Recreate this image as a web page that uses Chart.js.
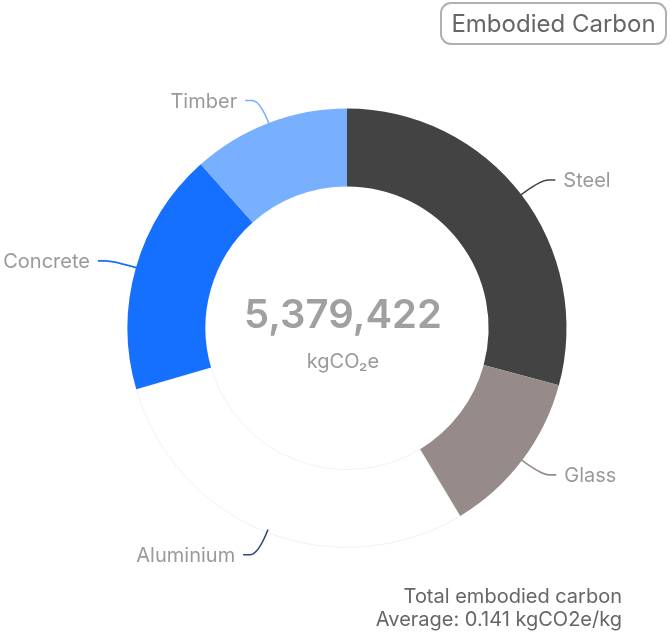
<!DOCTYPE html>
<html>
<head>
<meta charset="utf-8">
<script src="https://cdn.jsdelivr.net/npm/chart.js@4.4.1/dist/chart.umd.min.js"></script>
<style>
    body { margin: 0; background: #fff; font-family: Inter, "Noto Sans", sans-serif; }
    #wrap { position: relative; width: 670px; height: 640px; }
    #dona { position: absolute; left: 0; top: 0; }
    .boton {
        position: absolute; left: 440px; top: 2px; width: 227px; height: 43px;
        box-sizing: border-box; border: 2px solid #b0b0b0; border-radius: 11px;
        color: #666; font-size: 24px; line-height: 39px; text-align: center;
    }
    .pie {
        position: absolute; right: 48px; top: 585px; text-align: right;
        color: #666; font-size: 20px; line-height: 23px;
    }
</style>
</head>
<body>
<div id="wrap">
    <canvas id="dona" width="670" height="640"></canvas>
    <div class="boton">Embodied Carbon</div>
    <div class="pie">Total embodied carbon<br>Average: 0.141 kgCO2e/kg</div>
</div>
<script>
const materiales = ['Steel', 'Glass', 'Aluminium', 'Concrete', 'Timber'];
const carbono = [1571000, 656000, 1565000, 963000, 624422];
const colores = ['#434343', '#978b8a', '#ffffff', '#1570ff', '#78b0ff'];
const coloresLinea = ['#434343', '#978b8a', '#2e4a70', '#1570ff', '#78b0ff'];
const unidad = 'kgCO₂e';

const total = carbono.reduce((a, b) => a + b, 0);

const textoCentro = {
    id: 'textoCentro',
    afterDraw(chart) {
        const ctx = chart.ctx;
        const arc = chart.getDatasetMeta(0).data[0];
        const cx = arc.x - 4, cy = arc.y;
        ctx.save();
        ctx.textAlign = 'center';
        ctx.textBaseline = 'middle';
        ctx.fillStyle = '#a0a0a0';
        ctx.font = '600 40px Inter';
        ctx.fillText(total.toLocaleString('en-US'), cx, cy - 12);
        ctx.fillStyle = '#9a9a9a';
        ctx.font = '400 20px Inter';
        ctx.fillText(unidad, cx, cy + 34);
        ctx.restore();
    }
};

const etiquetas = {
    id: 'etiquetas',
    afterDatasetsDraw(chart) {
        const ctx = chart.ctx;
        const meta = chart.getDatasetMeta(0);
        meta.data.forEach((arc, i) => {
            const p = arc.getProps(['x', 'y', 'startAngle', 'endAngle', 'outerRadius'], true);
            const mid = (p.startAngle + p.endAngle) / 2;
            const cos = Math.cos(mid), sin = Math.sin(mid);
            const ax = p.x + cos * (p.outerRadius - 3);
            const ay = p.y + sin * (p.outerRadius - 3);
            const ex = p.x + cos * (p.outerRadius + 24);
            const ey = p.y + sin * (p.outerRadius + 24);
            const dir = cos >= 0 ? 1 : -1;

            ctx.save();
            ctx.strokeStyle = coloresLinea[i];
            ctx.lineWidth = 1.6;
            ctx.beginPath();
            ctx.moveTo(ax, ay);
            ctx.quadraticCurveTo(ex, ey, ex + dir * 8, ey);
            ctx.lineTo(ex + dir * 15, ey);
            ctx.stroke();

            ctx.fillStyle = '#9a9a9a';
            ctx.font = '400 20px Inter';
            ctx.textBaseline = 'middle';
            ctx.textAlign = dir > 0 ? 'left' : 'right';
            ctx.fillText(materiales[i], ex + dir * 23, ey + 1);
            ctx.restore();
        });
    }
};

const ctx = document.getElementById('dona').getContext('2d');
new Chart(ctx, {
    type: 'doughnut',
    data: {
        labels: materiales,
        datasets: [{
            data: carbono,
            backgroundColor: colores,
            borderColor: ['#434343', '#978b8a', '#f1f1f1', '#1570ff', '#78b0ff'],
            borderWidth: [0, 0, 1, 0, 0]
        }]
    },
    options: {
        responsive: false,
        animation: false,
        events: [],
        cutout: '64.5%',
        layout: { padding: { left: 127, right: 103, top: 108, bottom: 92 } },
        plugins: {
            legend: { display: false },
            tooltip: { enabled: false }
        }
    },
    plugins: [etiquetas, textoCentro]
});
</script>
</body>
</html>
